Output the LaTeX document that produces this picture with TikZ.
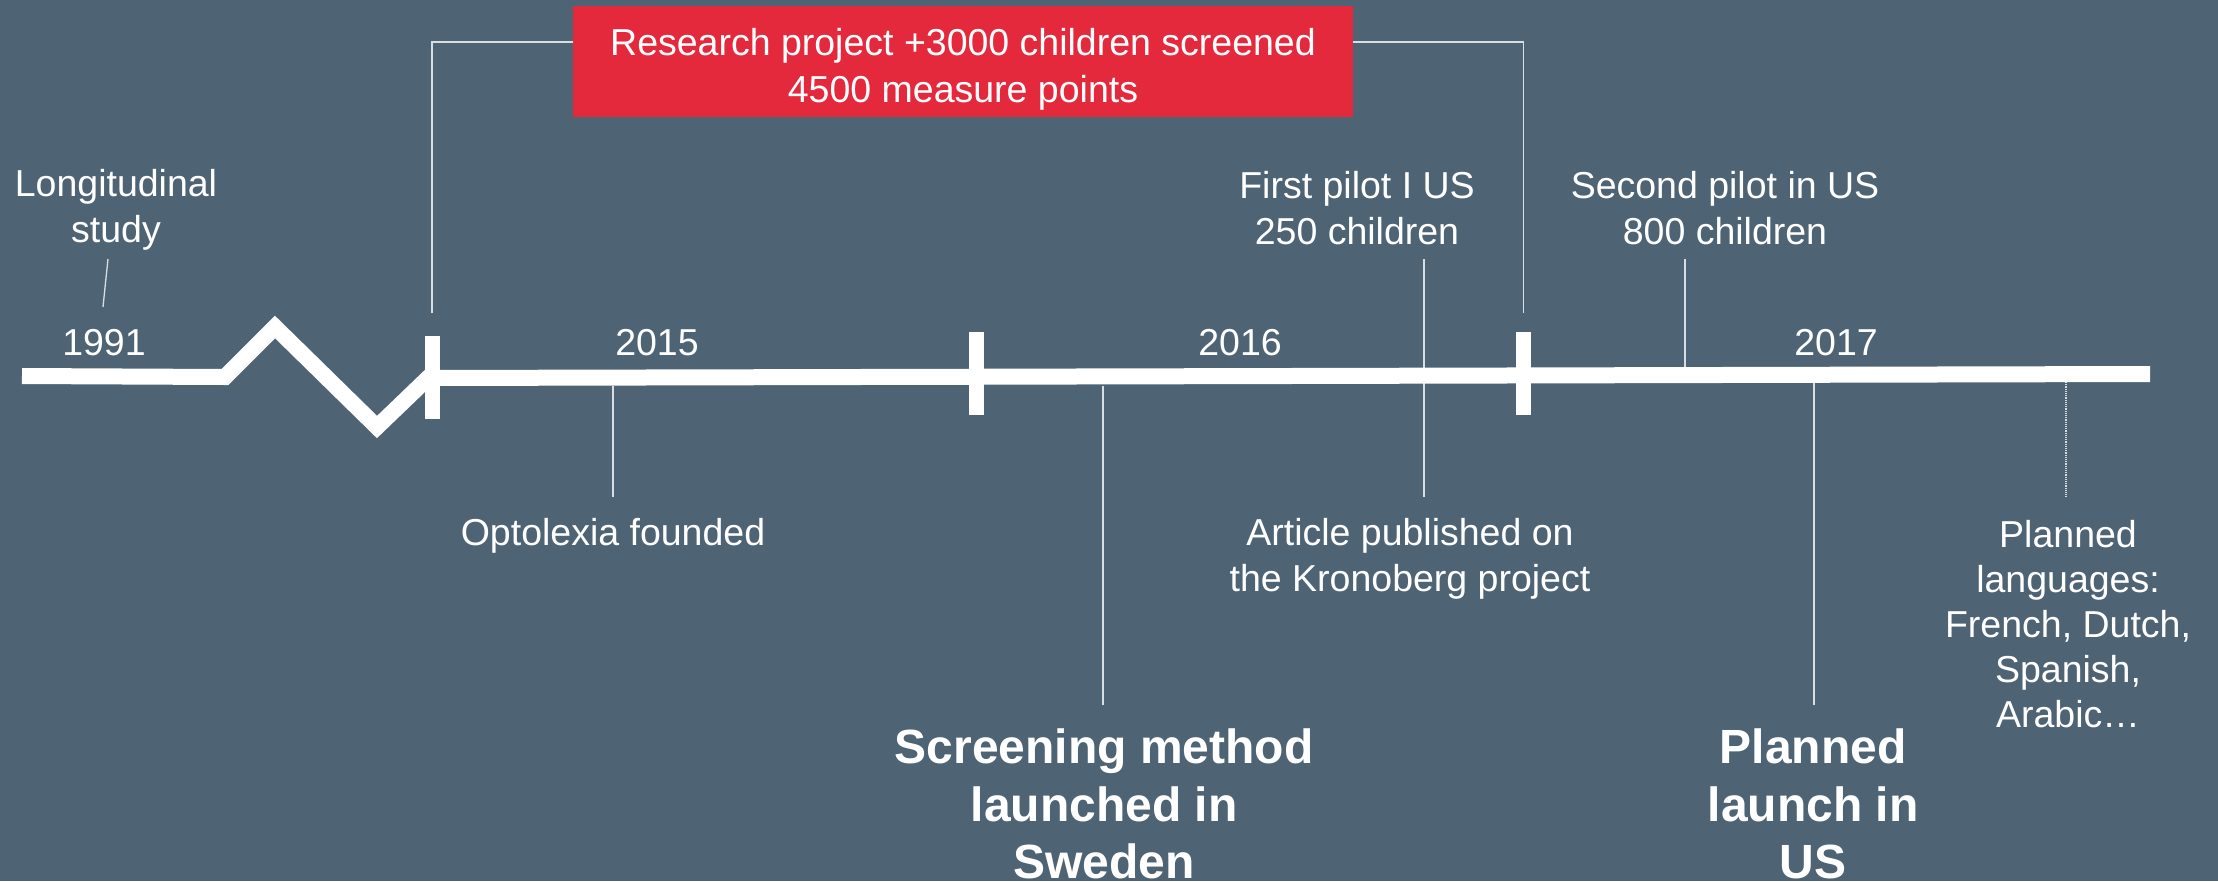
\documentclass[tikz,border=0pt]{standalone}
\usepackage{fontspec}
\setmainfont{Liberation Sans}
\definecolor{bgc}{RGB}{78,100,116}
\definecolor{redc}{RGB}{229,41,61}
\definecolor{thinc}{RGB}{215,222,228}
\tikzset{
  timeline/.style={draw=white, line width=16pt, line join=miter, line cap=butt},
  tickbar/.style={draw=white, line width=15pt, line cap=butt},
  pointer/.style={draw=thinc, line width=1.3pt},
  txt/.style={text=white, align=center, inner sep=0pt, font=\fontsize{37.5}{46}\selectfont},
  bigtxt/.style={text=white, align=center, inner sep=0pt, font=\fontsize{48}{57.5}\selectfont\bfseries},
  redbox/.style={fill=redc, inner sep=0pt, minimum width=780pt, minimum height=111pt}
}
\begin{document}
\begin{tikzpicture}[x=1pt,y=-1pt]
\fill[bgc] (0,0) rectangle (2218,881);
\useasboundingbox (0,0) rectangle (2218,881);

% text nodes
\node[redbox] (box) at (963,61.5) {};
\node[txt, font=\fontsize{37.5}{47}\selectfont] (boxtext) at (963,69) {Research project +3000 children screened\\4500 measure points};
\node[txt] (long) at (116,210) {Longitudinal\\study};
\node[txt] (y1991) at (104,343) {1991};
\node[txt] (y2015) at (657,343) {2015};
\node[txt] (y2016) at (1240,343) {2016};
\node[txt] (y2017) at (1836,343) {2017};
\node[txt] (pilot1) at (1357,208) {First pilot I US\\250 children};
\node[txt] (pilot2) at (1725,208) {Second pilot in US\\800 children};
\node[txt] (opto) at (613,536) {Optolexia founded};
\node[txt] (article) at (1410,559) {Article published on\\the Kronoberg project};
\node[txt, font=\fontsize{37.5}{44.9}\selectfont] (lang) at (2068,624) {Planned\\languages:\\French, Dutch,\\Spanish,\\Arabic\ldots};
\node[bigtxt] (sweden) at (1104,804) {Screening method\\launched in\\Sweden};
\node[bigtxt] (uslaunch) at (1813,804) {Planned\\launch in\\US};

% pointer end coordinates
\coordinate (pL1) at (108,259); \coordinate (pL2) at (103,307);
\coordinate (pO1) at (613,386); \coordinate (pO2) at (613,497);
\coordinate (pS1) at (1103,386); \coordinate (pS2) at (1103,705);
\coordinate (pF1) at (1424,259); \coordinate (pF2) at (1424,497);
\coordinate (pP1) at (1685,259); \coordinate (pP2) at (1685,367);
\coordinate (pU1) at (1814,382); \coordinate (pU2) at (1814,705);
\coordinate (pG1) at (2066,382); \coordinate (pG2) at (2066,497);
\coordinate (bL) at (432,313); \coordinate (bLt) at (432,42);
\coordinate (bR) at (1523.5,313); \coordinate (bRt) at (1523.5,42);

% bracket to red box
\draw[pointer] (bL) -- (bLt) -- (box.west |- bLt);
\draw[pointer] (bR) -- (bRt) -- (box.east |- bRt);

% pointers
\draw[pointer] (pL1) -- (pL2);
\draw[pointer] (pO1) -- (pO2);
\draw[pointer] (pS1) -- (pS2);
\draw[pointer] (pF1) -- (pF2);
\draw[pointer] (pP1) -- (pP2);
\draw[pointer] (pU1) -- (pU2);
\draw[draw=thinc, line width=1.2pt, densely dotted] (pG1) -- (pG2);

% timeline
\coordinate (t0) at (22,376);
\coordinate (t1) at (225,377);
\coordinate (z1) at (275,327);
\coordinate (z2) at (377,427);
\coordinate (z3) at (428,378);
\coordinate (tE) at (2150,374);
\draw[timeline] (t0) -- (t1) -- (z1) -- (z2) -- (z3) -- (tE);

% ticks
\coordinate (k1a) at (432,336); \coordinate (k1b) at (432,419);
\coordinate (k2a) at (976,332); \coordinate (k2b) at (976,415);
\coordinate (k3a) at (1523.5,332); \coordinate (k3b) at (1523.5,415);
\draw[tickbar] (k1a) -- (k1b);
\draw[tickbar] (k2a) -- (k2b);
\draw[tickbar] (k3a) -- (k3b);
\end{tikzpicture}
\end{document}
